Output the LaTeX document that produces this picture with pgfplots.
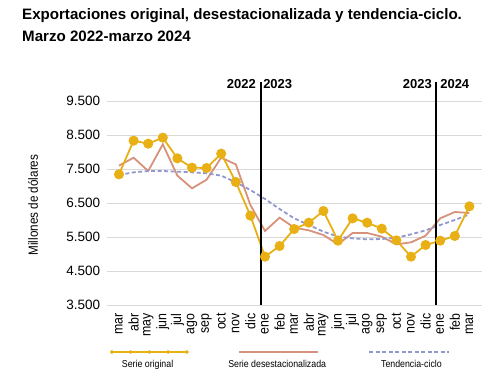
\documentclass[border=0pt]{standalone}
\usepackage{pgfplots}
\pgfplotsset{compat=1.18}
\usepackage{pgfplotstable}
\usepackage{fontspec}
\setmainfont{Liberation Sans}
\newfontfamily\narrowfont[FakeStretch=0.88]{Liberation Sans}
\definecolor{orig}{RGB}{232,176,20}
\definecolor{desest}{RGB}{214,146,122}
\definecolor{trend}{RGB}{146,152,206}
\definecolor{gridgray}{RGB}{217,217,217}

\pgfplotsset{
  leg orig/.style={legend image code/.code={\draw[##1, overlay, mark repeat=1, mark size=1.7pt, mark options={line width=0.4pt}] plot coordinates {(-7pt,13pt) (11.75pt,13pt) (30.5pt,13pt) (49.25pt,13pt) (68pt,13pt)}; \path[draw=none, fill=none] (0pt,0pt) -- (1pt,0pt);}},
  leg desest/.style={legend image code/.code={\draw[##1, overlay] (14pt,13pt) -- (93pt,13pt); \path[draw=none, fill=none] (0pt,0pt) -- (1pt,0pt);}},
  leg trend/.style={legend image code/.code={\draw[##1, overlay] (-9pt,13pt) -- (71pt,13pt); \path[draw=none, fill=none] (0pt,0pt) -- (1pt,0pt);}},
}

\pgfplotstableread{
i orig desest trend
0 7343 7598 7324
1 8333 7833 7402
2 8245 7441 7441
3 8422 8226 7441
4 7814 7304 7421
5 7539 6931 7402
6 7530 7186 7373
7 7951 7833 7304
8 7118 7637 7108
9 6127 6441 6882
10 4922 5676 6618
11 5235 6069 6324
12 5735 5775 6050
13 5921 5696 5853
14 6265 5559 5657
15 5392 5284 5510
16 6049 5618 5461
17 5921 5618 5431
18 5745 5510 5441
19 5402 5284 5480
20 4922 5343 5578
21 5265 5539 5696
22 5392 6049 5853
23 5530 6235 6000
24 6402 6206 6167
}\datatable

\begin{document}
\begin{tikzpicture}
\useasboundingbox (-111.7pt,-80pt) rectangle (388.3pt,305pt);
\node[anchor=base west, inner sep=0pt, font=\bfseries\fontsize{15.1}{17}\selectfont] at (-89.7pt,285pt) {Exportaciones original, desestacionalizada y tendencia-ciclo.};
\node[anchor=base west, inner sep=0pt, font=\bfseries\fontsize{15.1}{17}\selectfont] at (-89.7pt,263pt) {Marzo 2022-marzo 2024};
\begin{axis}[
  at={(0pt,0pt)}, anchor=south west,
  scale only axis, width=365pt, height=204pt,
  xmin=-0.5, xmax=24.5, ymin=3500, ymax=9500,
  xtick={0,...,24},
  xticklabels={mar,abr,may,jun,jul,ago,sep,oct,nov,dic,ene,feb,mar,abr,may,jun,jul,ago,sep,oct,nov,dic,ene,feb,mar},
  ytick={3500,4500,5500,6500,7500,8500,9500},
  ymajorgrids, grid style={color=gridgray, line width=0.8pt},
  axis line style={draw=none},
  xtick style={draw=none},
  ytick style={color=gridgray, line width=0.8pt},
  tick align=outside, major tick length=5pt,
  x tick label style={rotate=90, anchor=east, font=\narrowfont\fontsize{14}{14}\selectfont},
  y tick label style={font=\fontsize{13.5}{14}\selectfont, xshift=-3pt},
  /pgf/number format/.cd, 1000 sep={.}, assume math mode=true,
  /pgfplots/.cd,
  clip=false,
  ylabel={Millones de dólares},
  ylabel style={at={(axis description cs:-0.2156,0.49)}, anchor=center, font=\narrowfont\fontsize{13.3}{14}\selectfont},
  legend columns=3,
  legend style={draw=none, fill=none, at={(axis description cs:0,0)}, anchor=west, xshift=4pt, yshift=-60pt,
    font=\narrowfont\fontsize{10}{12}\selectfont,
    /tikz/every even column/.append style={column sep=50pt}},
]
\addlegendimage{orig, line width=1.8pt, mark=*, mark options={fill=orig, draw=orig}, leg orig}
\addlegendentry{Serie original}
\addlegendimage{desest, line width=2pt, leg desest}
\addlegendentry{Serie desestacionalizada}
\addlegendimage{trend, line width=2pt, dash pattern=on 4pt off 2.5pt, leg trend}
\addlegendentry{Tendencia-ciclo}

\addplot[forget plot, desest, line width=1.8pt] table[x=i, y=desest] {\datatable};
\addplot[forget plot, trend, line width=1.8pt, dash pattern=on 4pt off 2.5pt] table[x=i, y=trend] {\datatable};
\addplot[forget plot, orig, line width=1.8pt, mark=*, mark size=4.1pt, mark options={fill=orig, draw=orig}] table[x=i, y=orig] {\datatable};

\draw[black, line width=1.4pt] (axis cs:9.73,3500) -- (axis cs:9.73,10070);
\draw[black, line width=1.4pt] (axis cs:21.72,3500) -- (axis cs:21.72,10070);
\node[anchor=base east, inner sep=0pt, font=\bfseries\fontsize{13}{14}\selectfont, xshift=-5pt] at (axis cs:9.73,9853) {2022};
\node[anchor=base west, inner sep=0pt, font=\bfseries\fontsize{13}{14}\selectfont, xshift=2pt] at (axis cs:9.73,9853) {2023};
\node[anchor=base east, inner sep=0pt, font=\bfseries\fontsize{13}{14}\selectfont, xshift=-4pt] at (axis cs:21.72,9853) {2023};
\node[anchor=base west, inner sep=0pt, font=\bfseries\fontsize{13}{14}\selectfont, xshift=4pt] at (axis cs:21.72,9853) {2024};
\end{axis}
\end{tikzpicture}
\end{document}
